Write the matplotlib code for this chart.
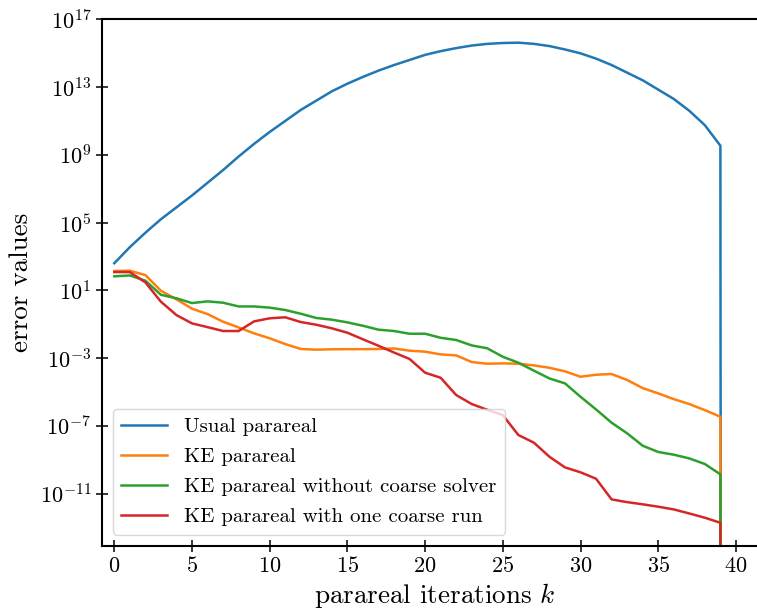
import numpy as np
import matplotlib
matplotlib.use("Agg")
import matplotlib.pyplot as plt
from matplotlib.ticker import LogFormatterSciNotation, NullLocator

plt.rcParams['font.family'] = 'serif'
plt.rcParams['font.serif'] = ['cmr10', 'DejaVu Serif']
plt.rcParams['mathtext.fontset'] = 'cm'
plt.rcParams['axes.formatter.use_mathtext'] = True
plt.rcParams['axes.unicode_minus'] = True

k = list(range(41))

# log10 of error values (last iteration error is exactly zero)
usual_log = [2.6, 3.55, 4.4, 5.2, 5.9, 6.6, 7.35, 8.1, 8.9, 9.65, 10.35, 11.0, 11.65, 12.2,
             12.75, 13.2, 13.6, 13.97, 14.3, 14.6, 14.9, 15.12, 15.3, 15.45, 15.55, 15.6,
             15.62, 15.55, 15.42, 15.22, 14.99, 14.68, 14.3, 13.85, 13.4, 12.85, 12.3,
             11.6, 10.75, 9.54]
ke_log = [2.14, 2.16, 1.9, 0.98, 0.47, -0.08, -0.4, -0.85, -1.19, -1.54, -1.83, -2.17,
          -2.46, -2.5, -2.48, -2.47, -2.47, -2.46, -2.43, -2.56, -2.62, -2.78, -2.84,
          -3.23, -3.33, -3.31, -3.33, -3.43, -3.57, -3.78, -4.1, -3.98, -3.94, -4.29,
          -4.77, -5.08, -5.42, -5.71, -6.07, -6.46]
ke_nocoarse_log = [1.83, 1.88, 1.57, 0.74, 0.53, 0.25, 0.35, 0.27, 0.05, 0.05, -0.02,
                   -0.16, -0.38, -0.63, -0.73, -0.89, -1.09, -1.32, -1.4, -1.56, -1.56,
                   -1.8, -1.93, -2.25, -2.42, -2.92, -3.27, -3.74, -4.2, -4.49, -5.28,
                   -6.03, -6.81, -7.44, -8.17, -8.54, -8.7, -8.92, -9.25, -9.86]
ke_onecoarse_log = [2.08, 2.08, 1.47, 0.33, -0.46, -0.95, -1.17, -1.4, -1.4, -0.83, -0.65,
                    -0.59, -0.87, -1.03, -1.24, -1.5, -1.89, -2.27, -2.67, -3.05, -3.86,
                    -4.16, -5.18, -5.71, -6.05, -6.36, -7.54, -7.99, -8.82, -9.45, -9.74,
                    -10.12, -11.34, -11.5, -11.63, -11.77, -11.93, -12.17, -12.42, -12.72]

def vals(logs):
    return [10.0 ** v for v in logs] + [0.0]

series = [
    ("Usual parareal", usual_log, "#1f77b4"),
    ("KE parareal", ke_log, "#ff7f0e"),
    ("KE parareal without coarse solver", ke_nocoarse_log, "#2ca02c"),
    ("KE parareal with one coarse run", ke_onecoarse_log, "#d62728"),
]

W, H = 757, 609
fig = plt.figure(figsize=(W / 100, H / 100), dpi=100)
left_px, right_px, top_px, bot_px = 101.7, 767.0, 19.3, 546.0
ax = fig.add_axes([left_px / W, 1 - bot_px / H, (right_px - left_px) / W, (bot_px - top_px) / H])

for label, logs, color in series:
    ax.plot(k, vals(logs), color=color, lw=1.8, label=label)

ax.set_yscale('log')
ax.set_xlim(-0.81, 42.0)
ax.set_ylim(10 ** -14.09, 1e17)
ax.set_yticks([10.0 ** e for e in [17, 13, 9, 5, 1, -3, -7, -11]])
ax.yaxis.set_minor_locator(NullLocator())
ax.yaxis.set_major_formatter(LogFormatterSciNotation())
ax.set_xticks([0, 5, 10, 15, 20, 25, 30, 35, 40])

ax.tick_params(axis='both', which='major', direction='inout', length=8, width=1.1,
               labelsize=16, color='black')
for s in ['left', 'bottom', 'top']:
    ax.spines[s].set_linewidth(1.5)
ax.spines['right'].set_visible(False)

ax.set_xlabel(r"parareal iterations $k$", fontsize=19.5, labelpad=3)
ax.set_ylabel("error values", fontsize=19.5, labelpad=5)

leg = ax.legend(loc='lower left', fontsize=15, frameon=True, fancybox=True,
                borderaxespad=0.55, handlelength=2.2, labelspacing=0.55)
leg.get_frame().set_edgecolor('#d0d0d0')

fig.savefig("out.png", dpi=100)
